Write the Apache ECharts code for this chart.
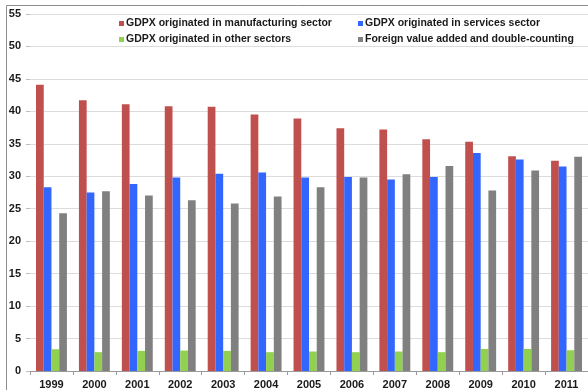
<!DOCTYPE html>
<html>
<head>
<meta charset="utf-8">
<script src="https://cdn.jsdelivr.net/npm/echarts@6/dist/echarts.min.js"></script>
<style>
  html, body { margin: 0; padding: 0; background: #fff; }
  #chart { width: 588px; height: 390px; }
</style>
</head>
<body>
<div id="chart"></div>
<script>
// Gross domestic product in exports (GDPX) breakdown, share in %, 1999-2011
const years = ['1999', '2000', '2001', '2002', '2003', '2004', '2005', '2006', '2007', '2008', '2009', '2010', '2011'];
const manufacturing = [44.1, 41.7, 41.1, 40.8, 40.7, 39.5, 38.9, 37.4, 37.2, 35.7, 35.3, 33.1, 32.4];
const services = [28.3, 27.5, 28.8, 29.8, 30.4, 30.6, 29.8, 29.9, 29.5, 29.9, 33.6, 32.6, 31.5];
const otherSectors = [3.35, 2.9, 3.1, 3.15, 3.1, 2.9, 3.0, 2.9, 3.0, 2.9, 3.4, 3.4, 3.2];
const foreignVA = [24.3, 27.7, 27.05, 26.3, 25.8, 26.9, 28.3, 29.8, 30.3, 31.6, 27.8, 30.9, 33.0];
const yTicks = { min: 0, max: 55, step: 5 };

const names = [
  'GDPX originated in manufacturing sector',
  'GDPX originated in services sector',
  'GDPX originated in other sectors',
  'Foreign value added and double-counting'
];
const colors = ['#C0504D', '#3366FF', '#92D050', '#808080'];
const values = [manufacturing, services, otherSectors, foreignVA];

const FONT = '"Liberation Sans", Arial, sans-serif';

const chart = echarts.init(document.getElementById('chart'), null, { renderer: 'canvas' });

const legendCommon = {
  orient: 'vertical',
  top: 18,
  itemWidth: 5,
  itemHeight: 5,
  itemGap: 5,
  icon: 'rect',
  selectedMode: false,
  textStyle: { fontFamily: FONT, fontWeight: 'bold', fontSize: 10.5, color: '#1a1a1a', padding: [0, 0, 0, -3] },
  padding: 0
};

chart.setOption({
  animation: false,
  backgroundColor: '#fff',
  textStyle: { fontFamily: FONT },
  graphic: [{
    type: 'rect',
    shape: { x: 6.5, y: 5.5, width: 600, height: 400 },
    style: { fill: 'none', stroke: '#8c8c8c', lineWidth: 1 },
    silent: true
  }],
  legend: [
    Object.assign({}, legendCommon, { left: 119, data: [names[0], names[2]] }),
    Object.assign({}, legendCommon, { left: 358, data: [names[1], names[3]] })
  ],
  grid: { left: 30, right: -1, top: 14, bottom: 19, containLabel: false },
  xAxis: {
    type: 'category',
    data: years,
    axisLine: { show: true, lineStyle: { color: '#9a9a9a', width: 1 } },
    axisTick: { show: true, length: 4, lineStyle: { color: '#9a9a9a' } },
    axisLabel: { fontFamily: FONT, fontWeight: 'bold', fontSize: 11, color: '#1a1a1a', margin: 8 }
  },
  yAxis: {
    type: 'value',
    min: yTicks.min,
    max: yTicks.max,
    interval: yTicks.step,
    axisLine: { show: false },
    axisTick: { show: true, length: 4, lineStyle: { color: '#bdbdbd' } },
    splitLine: { show: true, lineStyle: { color: '#dcdcdc', width: 1 } },
    axisLabel: { fontFamily: FONT, fontWeight: 'bold', fontSize: 11, color: '#1a1a1a', margin: 9 }
  },
  series: values.map((v, i) => ({
    name: names[i],
    type: 'bar',
    data: v,
    barGap: '0%',
    barCategoryGap: '28%',
    itemStyle: { color: colors[i] }
  }))
});
</script>
</body>
</html>
